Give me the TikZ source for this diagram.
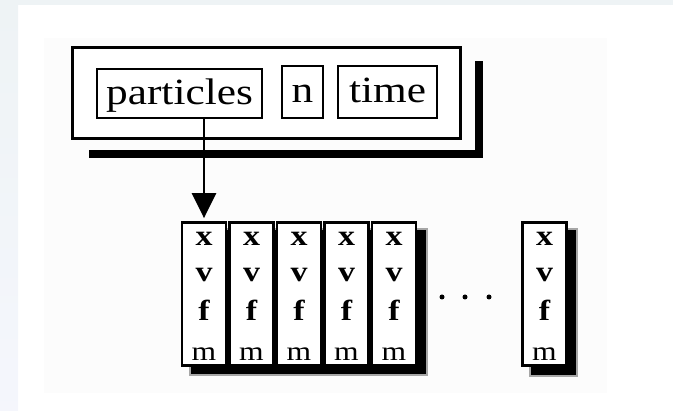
\documentclass[tikz,border=0pt]{standalone}
\usepackage{fontspec}
\setmainfont{Liberation Serif}
\usetikzlibrary{arrows.meta}
\definecolor{bgstrip}{HTML}{E2ECF1}
\definecolor{bgtop}{HTML}{EEF3F5}
\definecolor{faint}{HTML}{FCFCFC}
\tikzset{
  px/.style={x=1pt,y=-1pt},
  field/.style={draw=black,line width=2.6pt,fill=white,inner sep=0pt,
    text height=30pt,text depth=8pt,
    font=\fontsize{37}{40}\selectfont},
  cell/.style={draw=black,line width=2.8pt,fill=white,inner sep=0pt,
    minimum width=44pt,minimum height=143pt},
  letter/.style={inner sep=0pt,anchor=base,font=\fontsize{29}{30}\selectfont\bfseries},
  mletter/.style={inner sep=0pt,anchor=base,font=\fontsize{27}{30}\selectfont},
  shadowfill/.style={fill=black,draw=gray!70,line width=1.5pt},
  dotmark/.style={circle,fill=black,inner sep=0pt,minimum size=5pt},
}
\newcommand{\wide}[1]{\scalebox{1.17}[1]{#1}}
\begin{document}
\begin{tikzpicture}[px]
\useasboundingbox (0,0) rectangle (673,411);
% background
\fill[bgtop] (0,0) rectangle (673,5);
\shade[top color=bgtop,bottom color=bgstrip!90!blue!20] (0,0) rectangle (18,411);
\fill[faint] (44,38) rectangle (607,393);
% top record with shadow
\draw[line width=8pt,miter limit=10] (89,154) -- (479,154) -- (479,61);
\node[draw=black,line width=2.8pt,fill=white,minimum width=388pt,minimum height=91pt,inner sep=0pt]
  (rec) at (266.5,93) {};
\node[field,minimum width=165pt,minimum height=49pt] (particles) at (179.5,93.5)
  {\wide{particles}};
\node[field,minimum width=41pt,minimum height=52pt] (n) at (302.5,92) {\wide{n}};
\node[field,minimum width=99pt,minimum height=52pt] (time) at (387.5,92) {\wide{time}};
% array shadow
\fill[shadowfill] (190,229) rectangle (427,375);
\fill[shadowfill] (530,229) rectangle (577,376);
% cells
\foreach \i/\cx in {1/204,2/251.5,3/299,4/346.5,5/394,6/544.5}{
  \node[cell] (c\i) at (\cx,294) {};
  \node[letter] (x\i) at (\cx,246) {\wide{x}};
  \node[letter] (v\i) at (\cx,282) {\wide{v}};
  \node[letter] (f\i) at (\cx,321) {\wide{f}};
  \node[mletter] (m\i) at (\cx,361) {\wide{m}};
}
% dots
\node[dotmark] (d1) at (442,297) {};
\node[dotmark] (d2) at (465,297) {};
\node[dotmark] (d3) at (489,297) {};
% pointer
\draw[line width=2.5pt,-{Triangle[width=24pt,length=25pt]},shorten >=3pt]
  (particles.south -| c1.north) -- (c1.north);
\end{tikzpicture}
\end{document}
